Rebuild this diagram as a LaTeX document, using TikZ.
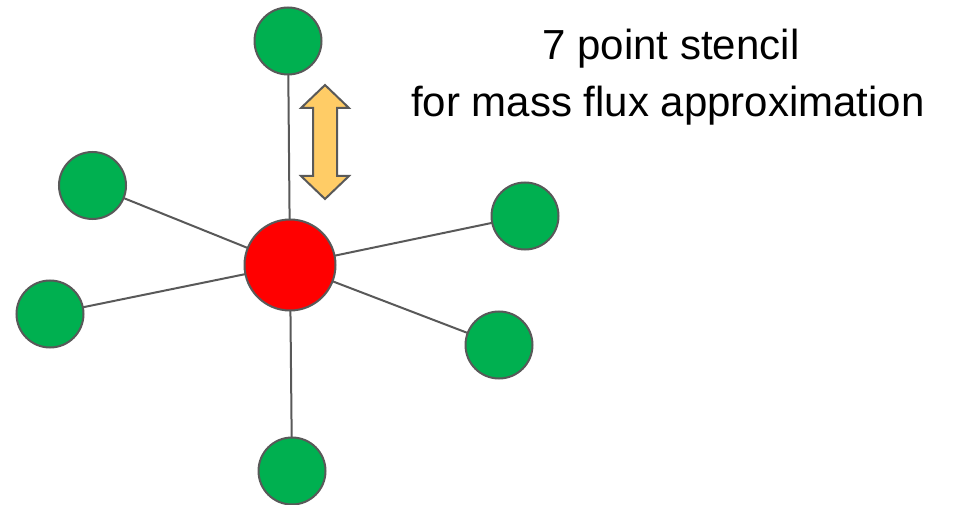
\documentclass[tikz,border=0pt]{standalone}
\usepackage{fontspec}
\setmainfont{Liberation Sans}
\definecolor{edgegray}{HTML}{595959}
\definecolor{cellgreen}{HTML}{00B050}
\definecolor{cellred}{HTML}{FF0000}
\definecolor{fluxarrow}{HTML}{FFCC66}
\tikzset{
  cell/.style={circle, draw=edgegray, line width=2pt, inner sep=0pt, outer sep=0pt},
  neighbour/.style={cell, fill=cellgreen, minimum size=67pt},
  centre/.style={cell, fill=cellred, minimum size=91pt},
  link/.style={draw=edgegray, line width=2pt},
  caption/.style={font=\fontsize{42}{50}\selectfont, anchor=base, inner sep=0pt}
}
\begin{document}
\begin{tikzpicture}[x=1pt, y=-1pt]
  \useasboundingbox (0,0) rectangle (954,505);

  % stencil cells
  \node[centre]    (c)  at (290,265) {};
  \node[neighbour] (n)  at (288,41)  {};
  \node[neighbour] (nw) at (92.5,185.5) {};
  \node[neighbour] (w)  at (50,314) {};
  \node[neighbour] (ne) at (525,216) {};
  \node[neighbour] (se) at (499,345) {};
  \node[neighbour] (s)  at (292,471) {};

  % links from the centre cell to its neighbours
  \foreach \k in {n,nw,w,ne,se,s}
    \draw[link] (c) -- (\k);

  % two-headed flux arrow
  \filldraw[fill=fluxarrow, draw=edgegray, line width=2pt, line join=miter]
    (325,85) -- (349,108) -- (337,108) -- (337,176) -- (349,176)
    -- (325,199) -- (301,176) -- (313,176) -- (313,108) -- (301,108) -- cycle;

  % caption
  \node[caption] (t1) at (671,60)  {7 point stencil};
  \node[caption] (t2) at (668,117) {for mass flux approximation};
\end{tikzpicture}
\end{document}
